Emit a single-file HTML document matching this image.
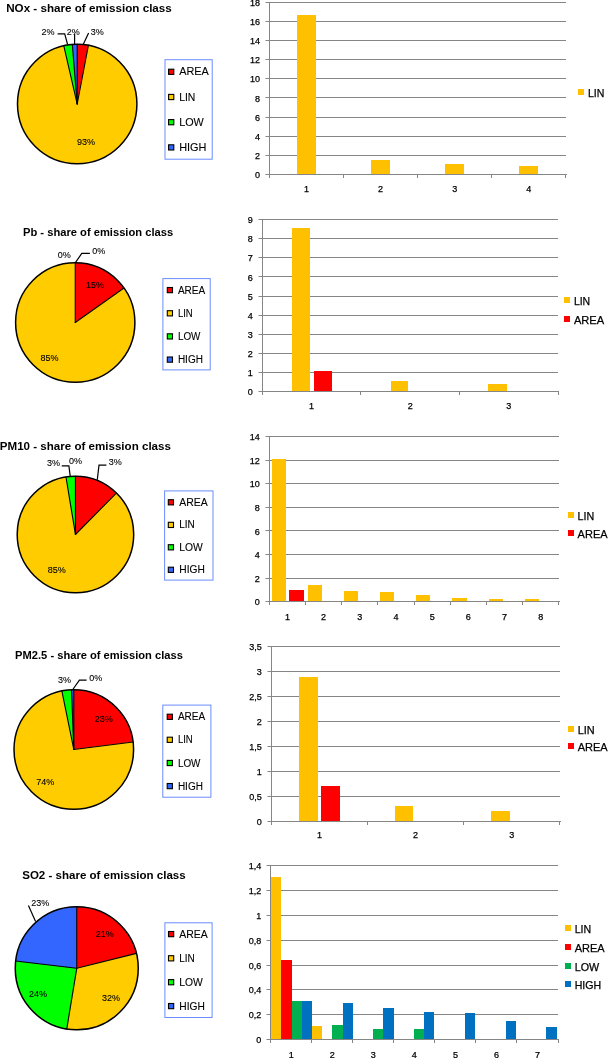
<!DOCTYPE html>
<html><head><meta charset="utf-8"><style>
html,body{margin:0;padding:0;background:#fff;width:609px;height:1058px;overflow:hidden}
text{font-family:"Liberation Sans", sans-serif}
svg{will-change:transform}
</style></head><body>
<svg width="609" height="1058" viewBox="0 0 609 1058" style="display:block">
<rect width="609" height="1058" fill="#fff"/>
<text x="6.20" y="12.30" font-size="11.5" text-anchor="start" font-weight="bold" fill="#000" textLength="165.60" lengthAdjust="spacingAndGlyphs" >NOx - share of emission class</text>
<path d="M77.20,104.00 L77.20,44.30 A59.7,59.7 0 0 1 88.39,45.36 Z" fill="#FF0000" stroke="#FF0000" stroke-width="0.3"/>
<path d="M77.20,104.00 L88.39,45.36 A59.7,59.7 0 1 1 63.81,45.82 Z" fill="#FFCC00" stroke="#FFCC00" stroke-width="0.3"/>
<path d="M77.20,104.00 L63.81,45.82 A59.7,59.7 0 0 1 72.33,44.50 Z" fill="#00FF00" stroke="#00FF00" stroke-width="0.3"/>
<path d="M77.20,104.00 L72.33,44.50 A59.7,59.7 0 0 1 77.20,44.30 Z" fill="#3366FF" stroke="#3366FF" stroke-width="0.3"/>
<line x1="77.20" y1="104.00" x2="77.20" y2="44.30" stroke="#000" stroke-width="1.1" stroke-linecap="round"/>
<line x1="77.20" y1="104.00" x2="88.39" y2="45.36" stroke="#000" stroke-width="1.1" stroke-linecap="round"/>
<line x1="77.20" y1="104.00" x2="63.81" y2="45.82" stroke="#000" stroke-width="1.1" stroke-linecap="round"/>
<line x1="77.20" y1="104.00" x2="72.33" y2="44.50" stroke="#000" stroke-width="1.1" stroke-linecap="round"/>
<circle cx="77.2" cy="104.0" r="59.7" fill="none" stroke="#000" stroke-width="1.5"/>
<text x="86.00" y="145.00" font-size="9" text-anchor="middle" font-weight="normal" fill="#000" stroke="#000" stroke-width="0.1">93%</text>
<text x="41.60" y="34.90" font-size="9" text-anchor="start" font-weight="normal" fill="#000" stroke="#000" stroke-width="0.1">2%</text>
<text x="66.80" y="34.90" font-size="9" text-anchor="start" font-weight="normal" fill="#000" stroke="#000" stroke-width="0.1">2%</text>
<text x="90.70" y="34.90" font-size="9" text-anchor="start" font-weight="normal" fill="#000" stroke="#000" stroke-width="0.1">3%</text>
<polyline points="57.6,33.8 64.7,33.8 67.6,44.5" fill="none" stroke="#000" stroke-width="1.2"/>
<polyline points="74.6,34 74.6,44.5" fill="none" stroke="#000" stroke-width="1.2"/>
<polyline points="88.6,33 83.2,44.5" fill="none" stroke="#000" stroke-width="1.2"/>
<rect x="165.00" y="59.70" width="47.20" height="99.50" fill="#fff" stroke="#6A8CFF" stroke-width="1"/>
<rect x="168.60" y="69.20" width="5.2" height="5.2" fill="#FF0000" stroke="#000" stroke-width="1.1"/>
<text x="179.20" y="75.30" font-size="11" text-anchor="start" font-weight="normal" fill="#000" textLength="29.60" lengthAdjust="spacingAndGlyphs" stroke="#000" stroke-width="0.1">AREA</text>
<rect x="168.60" y="94.40" width="5.2" height="5.2" fill="#FFCC00" stroke="#000" stroke-width="1.1"/>
<text x="179.20" y="100.50" font-size="11" text-anchor="start" font-weight="normal" fill="#000" textLength="16.20" lengthAdjust="spacingAndGlyphs" stroke="#000" stroke-width="0.1">LIN</text>
<rect x="168.60" y="119.60" width="5.2" height="5.2" fill="#00FF00" stroke="#000" stroke-width="1.1"/>
<text x="179.20" y="125.70" font-size="11" text-anchor="start" font-weight="normal" fill="#000" textLength="24.60" lengthAdjust="spacingAndGlyphs" stroke="#000" stroke-width="0.1">LOW</text>
<rect x="168.60" y="144.80" width="5.2" height="5.2" fill="#3366FF" stroke="#000" stroke-width="1.1"/>
<text x="179.20" y="150.90" font-size="11" text-anchor="start" font-weight="normal" fill="#000" textLength="27.30" lengthAdjust="spacingAndGlyphs" stroke="#000" stroke-width="0.1">HIGH</text>
<text x="260.00" y="177.90" font-size="9" text-anchor="end" font-weight="normal" fill="#000" stroke="#000" stroke-width="0.25">0</text>
<line x1="265.50" y1="155.50" x2="566.00" y2="155.50" stroke="#868686" stroke-width="1"/>
<text x="260.00" y="158.80" font-size="9" text-anchor="end" font-weight="normal" fill="#000" stroke="#000" stroke-width="0.25">2</text>
<line x1="265.50" y1="136.50" x2="566.00" y2="136.50" stroke="#868686" stroke-width="1"/>
<text x="260.00" y="139.70" font-size="9" text-anchor="end" font-weight="normal" fill="#000" stroke="#000" stroke-width="0.25">4</text>
<line x1="265.50" y1="117.50" x2="566.00" y2="117.50" stroke="#868686" stroke-width="1"/>
<text x="260.00" y="120.60" font-size="9" text-anchor="end" font-weight="normal" fill="#000" stroke="#000" stroke-width="0.25">6</text>
<line x1="265.50" y1="97.50" x2="566.00" y2="97.50" stroke="#868686" stroke-width="1"/>
<text x="260.00" y="101.50" font-size="9" text-anchor="end" font-weight="normal" fill="#000" stroke="#000" stroke-width="0.25">8</text>
<line x1="265.50" y1="78.50" x2="566.00" y2="78.50" stroke="#868686" stroke-width="1"/>
<text x="260.00" y="82.40" font-size="9" text-anchor="end" font-weight="normal" fill="#000" stroke="#000" stroke-width="0.25">10</text>
<line x1="265.50" y1="59.50" x2="566.00" y2="59.50" stroke="#868686" stroke-width="1"/>
<text x="260.00" y="63.30" font-size="9" text-anchor="end" font-weight="normal" fill="#000" stroke="#000" stroke-width="0.25">12</text>
<line x1="265.50" y1="40.50" x2="566.00" y2="40.50" stroke="#868686" stroke-width="1"/>
<text x="260.00" y="44.20" font-size="9" text-anchor="end" font-weight="normal" fill="#000" stroke="#000" stroke-width="0.25">14</text>
<line x1="265.50" y1="21.50" x2="566.00" y2="21.50" stroke="#868686" stroke-width="1"/>
<text x="260.00" y="25.10" font-size="9" text-anchor="end" font-weight="normal" fill="#000" stroke="#000" stroke-width="0.25">16</text>
<line x1="265.50" y1="2.50" x2="566.00" y2="2.50" stroke="#868686" stroke-width="1"/>
<text x="260.00" y="6.00" font-size="9" text-anchor="end" font-weight="normal" fill="#000" stroke="#000" stroke-width="0.25">18</text>
<rect x="297" y="15" width="19" height="159" fill="#FFC000"/>
<rect x="371" y="160" width="19" height="14" fill="#FFC000"/>
<rect x="445" y="164" width="19" height="10" fill="#FFC000"/>
<rect x="519" y="166" width="19" height="8" fill="#FFC000"/>
<line x1="265.50" y1="174.50" x2="567.00" y2="174.50" stroke="#868686" stroke-width="1"/>
<line x1="269.50" y1="2.00" x2="269.50" y2="178.00" stroke="#868686" stroke-width="1"/>
<line x1="343.50" y1="174.50" x2="343.50" y2="178.00" stroke="#868686" stroke-width="1"/>
<line x1="417.50" y1="174.50" x2="417.50" y2="178.00" stroke="#868686" stroke-width="1"/>
<line x1="491.50" y1="174.50" x2="491.50" y2="178.00" stroke="#868686" stroke-width="1"/>
<line x1="565.50" y1="174.50" x2="565.50" y2="178.00" stroke="#868686" stroke-width="1"/>
<text x="306.54" y="192.40" font-size="9" text-anchor="middle" font-weight="normal" fill="#000" stroke="#000" stroke-width="0.25">1</text>
<text x="380.61" y="192.40" font-size="9" text-anchor="middle" font-weight="normal" fill="#000" stroke="#000" stroke-width="0.25">2</text>
<text x="454.69" y="192.40" font-size="9" text-anchor="middle" font-weight="normal" fill="#000" stroke="#000" stroke-width="0.25">3</text>
<text x="528.76" y="192.40" font-size="9" text-anchor="middle" font-weight="normal" fill="#000" stroke="#000" stroke-width="0.25">4</text>
<rect x="578" y="89" width="6" height="6" fill="#FFC000"/>
<text x="587.90" y="96.80" font-size="11" text-anchor="start" font-weight="normal" fill="#000" textLength="16.40" lengthAdjust="spacingAndGlyphs" stroke="#000" stroke-width="0.25">LIN</text>
<text x="23.00" y="235.50" font-size="11.5" text-anchor="start" font-weight="bold" fill="#000" textLength="150.10" lengthAdjust="spacingAndGlyphs" >Pb - share of emission class</text>
<path d="M75.25,322.50 L75.25,262.85 A59.65,59.65 0 0 1 123.94,288.05 Z" fill="#FF0000" stroke="#FF0000" stroke-width="0.3"/>
<path d="M75.25,322.50 L123.94,288.05 A59.65,59.65 0 1 1 75.25,262.85 Z" fill="#FFCC00" stroke="#FFCC00" stroke-width="0.3"/>
<line x1="75.25" y1="322.50" x2="75.25" y2="262.85" stroke="#000" stroke-width="1.1" stroke-linecap="round"/>
<line x1="75.25" y1="322.50" x2="123.94" y2="288.05" stroke="#000" stroke-width="1.1" stroke-linecap="round"/>
<circle cx="75.25" cy="322.5" r="59.65" fill="none" stroke="#000" stroke-width="1.5"/>
<text x="95.00" y="288.00" font-size="9" text-anchor="middle" font-weight="normal" fill="#000" stroke="#000" stroke-width="0.1">15%</text>
<text x="49.50" y="361.30" font-size="9" text-anchor="middle" font-weight="normal" fill="#000" stroke="#000" stroke-width="0.1">85%</text>
<text x="57.70" y="258.00" font-size="9" text-anchor="start" font-weight="normal" fill="#000" stroke="#000" stroke-width="0.1">0%</text>
<text x="92.30" y="254.00" font-size="9" text-anchor="start" font-weight="normal" fill="#000" stroke="#000" stroke-width="0.1">0%</text>
<polyline points="75.2,262.8 81.8,253.4 89.9,253.4" fill="none" stroke="#000" stroke-width="1.2"/>
<rect x="162.90" y="278.60" width="47.30" height="91.30" fill="#fff" stroke="#6A8CFF" stroke-width="1"/>
<rect x="167.30" y="287.50" width="5.2" height="5.2" fill="#FF0000" stroke="#000" stroke-width="1.1"/>
<text x="177.90" y="293.60" font-size="10" text-anchor="start" font-weight="normal" fill="#000" textLength="27.30" lengthAdjust="spacingAndGlyphs" stroke="#000" stroke-width="0.1">AREA</text>
<rect x="167.30" y="310.70" width="5.2" height="5.2" fill="#FFCC00" stroke="#000" stroke-width="1.1"/>
<text x="177.90" y="316.80" font-size="10" text-anchor="start" font-weight="normal" fill="#000" textLength="14.80" lengthAdjust="spacingAndGlyphs" stroke="#000" stroke-width="0.1">LIN</text>
<rect x="167.30" y="333.80" width="5.2" height="5.2" fill="#00FF00" stroke="#000" stroke-width="1.1"/>
<text x="177.90" y="339.90" font-size="10" text-anchor="start" font-weight="normal" fill="#000" textLength="22.50" lengthAdjust="spacingAndGlyphs" stroke="#000" stroke-width="0.1">LOW</text>
<rect x="167.30" y="357.00" width="5.2" height="5.2" fill="#3366FF" stroke="#000" stroke-width="1.1"/>
<text x="177.90" y="363.10" font-size="10" text-anchor="start" font-weight="normal" fill="#000" textLength="25.00" lengthAdjust="spacingAndGlyphs" stroke="#000" stroke-width="0.1">HIGH</text>
<text x="252.80" y="395.40" font-size="9" text-anchor="end" font-weight="normal" fill="#000" stroke="#000" stroke-width="0.25">0</text>
<line x1="258.50" y1="372.50" x2="558.00" y2="372.50" stroke="#868686" stroke-width="1"/>
<text x="252.80" y="376.26" font-size="9" text-anchor="end" font-weight="normal" fill="#000" stroke="#000" stroke-width="0.25">1</text>
<line x1="258.50" y1="353.50" x2="558.00" y2="353.50" stroke="#868686" stroke-width="1"/>
<text x="252.80" y="357.11" font-size="9" text-anchor="end" font-weight="normal" fill="#000" stroke="#000" stroke-width="0.25">2</text>
<line x1="258.50" y1="334.50" x2="558.00" y2="334.50" stroke="#868686" stroke-width="1"/>
<text x="252.80" y="337.97" font-size="9" text-anchor="end" font-weight="normal" fill="#000" stroke="#000" stroke-width="0.25">3</text>
<line x1="258.50" y1="315.50" x2="558.00" y2="315.50" stroke="#868686" stroke-width="1"/>
<text x="252.80" y="318.82" font-size="9" text-anchor="end" font-weight="normal" fill="#000" stroke="#000" stroke-width="0.25">4</text>
<line x1="258.50" y1="296.50" x2="558.00" y2="296.50" stroke="#868686" stroke-width="1"/>
<text x="252.80" y="299.68" font-size="9" text-anchor="end" font-weight="normal" fill="#000" stroke="#000" stroke-width="0.25">5</text>
<line x1="258.50" y1="276.50" x2="558.00" y2="276.50" stroke="#868686" stroke-width="1"/>
<text x="252.80" y="280.53" font-size="9" text-anchor="end" font-weight="normal" fill="#000" stroke="#000" stroke-width="0.25">6</text>
<line x1="258.50" y1="257.50" x2="558.00" y2="257.50" stroke="#868686" stroke-width="1"/>
<text x="252.80" y="261.39" font-size="9" text-anchor="end" font-weight="normal" fill="#000" stroke="#000" stroke-width="0.25">7</text>
<line x1="258.50" y1="238.50" x2="558.00" y2="238.50" stroke="#868686" stroke-width="1"/>
<text x="252.80" y="242.24" font-size="9" text-anchor="end" font-weight="normal" fill="#000" stroke="#000" stroke-width="0.25">8</text>
<line x1="258.50" y1="219.50" x2="558.00" y2="219.50" stroke="#868686" stroke-width="1"/>
<text x="252.80" y="223.10" font-size="9" text-anchor="end" font-weight="normal" fill="#000" stroke="#000" stroke-width="0.25">9</text>
<rect x="292" y="228" width="18" height="163" fill="#FFC000"/>
<rect x="314" y="371" width="18" height="20" fill="#FF0000"/>
<rect x="391" y="381" width="17" height="10" fill="#FFC000"/>
<rect x="488" y="384" width="19" height="7" fill="#FFC000"/>
<line x1="258.50" y1="391.50" x2="559.00" y2="391.50" stroke="#868686" stroke-width="1"/>
<line x1="262.50" y1="219.00" x2="262.50" y2="395.00" stroke="#868686" stroke-width="1"/>
<line x1="360.50" y1="391.50" x2="360.50" y2="395.00" stroke="#868686" stroke-width="1"/>
<line x1="459.50" y1="391.50" x2="459.50" y2="395.00" stroke="#868686" stroke-width="1"/>
<line x1="558.50" y1="391.50" x2="558.50" y2="395.00" stroke="#868686" stroke-width="1"/>
<text x="311.58" y="409.20" font-size="9" text-anchor="middle" font-weight="normal" fill="#000" stroke="#000" stroke-width="0.25">1</text>
<text x="410.15" y="409.20" font-size="9" text-anchor="middle" font-weight="normal" fill="#000" stroke="#000" stroke-width="0.25">2</text>
<text x="508.72" y="409.20" font-size="9" text-anchor="middle" font-weight="normal" fill="#000" stroke="#000" stroke-width="0.25">3</text>
<rect x="564" y="297" width="6" height="6" fill="#FFC000"/>
<text x="573.90" y="304.90" font-size="11" text-anchor="start" font-weight="normal" fill="#000" textLength="16.30" lengthAdjust="spacingAndGlyphs" stroke="#000" stroke-width="0.25">LIN</text>
<rect x="564" y="316" width="6" height="6" fill="#FF0000"/>
<text x="573.90" y="323.60" font-size="11" text-anchor="start" font-weight="normal" fill="#000" textLength="30.30" lengthAdjust="spacingAndGlyphs" stroke="#000" stroke-width="0.25">AREA</text>
<text x="-0.20" y="449.70" font-size="11.5" text-anchor="start" font-weight="bold" fill="#000" textLength="171.10" lengthAdjust="spacingAndGlyphs" >PM10 - share of emission class</text>
<path d="M75.45,534.50 L75.45,476.25 A58.25,58.25 0 0 1 116.38,493.05 Z" fill="#FF0000" stroke="#FF0000" stroke-width="0.3"/>
<path d="M75.45,534.50 L116.38,493.05 A58.25,58.25 0 1 1 65.98,477.03 Z" fill="#FFCC00" stroke="#FFCC00" stroke-width="0.3"/>
<path d="M75.45,534.50 L65.98,477.03 A58.25,58.25 0 0 1 75.45,476.25 Z" fill="#00FF00" stroke="#00FF00" stroke-width="0.3"/>
<line x1="75.45" y1="534.50" x2="75.45" y2="476.25" stroke="#000" stroke-width="1.1" stroke-linecap="round"/>
<line x1="75.45" y1="534.50" x2="116.38" y2="493.05" stroke="#000" stroke-width="1.1" stroke-linecap="round"/>
<line x1="75.45" y1="534.50" x2="65.98" y2="477.03" stroke="#000" stroke-width="1.1" stroke-linecap="round"/>
<circle cx="75.45" cy="534.5" r="58.25" fill="none" stroke="#000" stroke-width="1.5"/>
<text x="56.70" y="572.70" font-size="9" text-anchor="middle" font-weight="normal" fill="#000" stroke="#000" stroke-width="0.1">85%</text>
<text x="46.90" y="465.90" font-size="9" text-anchor="start" font-weight="normal" fill="#000" stroke="#000" stroke-width="0.1">3%</text>
<text x="68.90" y="464.40" font-size="9" text-anchor="start" font-weight="normal" fill="#000" stroke="#000" stroke-width="0.1">0%</text>
<text x="108.80" y="465.10" font-size="9" text-anchor="start" font-weight="normal" fill="#000" stroke="#000" stroke-width="0.1">3%</text>
<polyline points="61.7,465.9 68.9,465.9 70.3,476.8" fill="none" stroke="#000" stroke-width="1.2"/>
<polyline points="106.4,465.1 99,465.1 97.3,479.6" fill="none" stroke="#000" stroke-width="1.2"/>
<rect x="164.60" y="490.90" width="48.40" height="89.20" fill="#fff" stroke="#6A8CFF" stroke-width="1"/>
<rect x="168.30" y="499.70" width="5.2" height="5.2" fill="#FF0000" stroke="#000" stroke-width="1.1"/>
<text x="179.30" y="505.80" font-size="10.5" text-anchor="start" font-weight="normal" fill="#000" textLength="28.50" lengthAdjust="spacingAndGlyphs" stroke="#000" stroke-width="0.1">AREA</text>
<rect x="168.30" y="522.30" width="5.2" height="5.2" fill="#FFCC00" stroke="#000" stroke-width="1.1"/>
<text x="179.30" y="528.40" font-size="10.5" text-anchor="start" font-weight="normal" fill="#000" textLength="15.50" lengthAdjust="spacingAndGlyphs" stroke="#000" stroke-width="0.1">LIN</text>
<rect x="168.30" y="544.70" width="5.2" height="5.2" fill="#00FF00" stroke="#000" stroke-width="1.1"/>
<text x="179.30" y="550.80" font-size="10.5" text-anchor="start" font-weight="normal" fill="#000" textLength="23.50" lengthAdjust="spacingAndGlyphs" stroke="#000" stroke-width="0.1">LOW</text>
<rect x="168.30" y="567.20" width="5.2" height="5.2" fill="#3366FF" stroke="#000" stroke-width="1.1"/>
<text x="179.30" y="573.30" font-size="10.5" text-anchor="start" font-weight="normal" fill="#000" textLength="25.50" lengthAdjust="spacingAndGlyphs" stroke="#000" stroke-width="0.1">HIGH</text>
<text x="259.80" y="605.30" font-size="9" text-anchor="end" font-weight="normal" fill="#000" stroke="#000" stroke-width="0.25">0</text>
<line x1="265.50" y1="578.50" x2="559.00" y2="578.50" stroke="#868686" stroke-width="1"/>
<text x="259.80" y="581.70" font-size="9" text-anchor="end" font-weight="normal" fill="#000" stroke="#000" stroke-width="0.25">2</text>
<line x1="265.50" y1="554.50" x2="559.00" y2="554.50" stroke="#868686" stroke-width="1"/>
<text x="259.80" y="558.10" font-size="9" text-anchor="end" font-weight="normal" fill="#000" stroke="#000" stroke-width="0.25">4</text>
<line x1="265.50" y1="530.50" x2="559.00" y2="530.50" stroke="#868686" stroke-width="1"/>
<text x="259.80" y="534.50" font-size="9" text-anchor="end" font-weight="normal" fill="#000" stroke="#000" stroke-width="0.25">6</text>
<line x1="265.50" y1="507.50" x2="559.00" y2="507.50" stroke="#868686" stroke-width="1"/>
<text x="259.80" y="510.90" font-size="9" text-anchor="end" font-weight="normal" fill="#000" stroke="#000" stroke-width="0.25">8</text>
<line x1="265.50" y1="483.50" x2="559.00" y2="483.50" stroke="#868686" stroke-width="1"/>
<text x="259.80" y="487.30" font-size="9" text-anchor="end" font-weight="normal" fill="#000" stroke="#000" stroke-width="0.25">10</text>
<line x1="265.50" y1="460.50" x2="559.00" y2="460.50" stroke="#868686" stroke-width="1"/>
<text x="259.80" y="463.70" font-size="9" text-anchor="end" font-weight="normal" fill="#000" stroke="#000" stroke-width="0.25">12</text>
<line x1="265.50" y1="436.50" x2="559.00" y2="436.50" stroke="#868686" stroke-width="1"/>
<text x="259.80" y="440.10" font-size="9" text-anchor="end" font-weight="normal" fill="#000" stroke="#000" stroke-width="0.25">14</text>
<rect x="272" y="459" width="14" height="142" fill="#FFC000"/>
<rect x="289" y="590" width="15" height="11" fill="#FF0000"/>
<rect x="308" y="585" width="14" height="16" fill="#FFC000"/>
<rect x="344" y="591" width="14" height="10" fill="#FFC000"/>
<rect x="380" y="592" width="14" height="9" fill="#FFC000"/>
<rect x="416" y="595" width="14" height="6" fill="#FFC000"/>
<rect x="452" y="598" width="15" height="3" fill="#FFC000"/>
<rect x="489" y="599" width="14" height="2" fill="#FFC000"/>
<rect x="525" y="599" width="14" height="2" fill="#FFC000"/>
<line x1="265.50" y1="601.50" x2="560.00" y2="601.50" stroke="#868686" stroke-width="1"/>
<line x1="269.50" y1="436.00" x2="269.50" y2="605.00" stroke="#868686" stroke-width="1"/>
<line x1="305.50" y1="601.50" x2="305.50" y2="605.00" stroke="#868686" stroke-width="1"/>
<line x1="341.50" y1="601.50" x2="341.50" y2="605.00" stroke="#868686" stroke-width="1"/>
<line x1="377.50" y1="601.50" x2="377.50" y2="605.00" stroke="#868686" stroke-width="1"/>
<line x1="414.50" y1="601.50" x2="414.50" y2="605.00" stroke="#868686" stroke-width="1"/>
<line x1="450.50" y1="601.50" x2="450.50" y2="605.00" stroke="#868686" stroke-width="1"/>
<line x1="486.50" y1="601.50" x2="486.50" y2="605.00" stroke="#868686" stroke-width="1"/>
<line x1="522.50" y1="601.50" x2="522.50" y2="605.00" stroke="#868686" stroke-width="1"/>
<line x1="558.50" y1="601.50" x2="558.50" y2="605.00" stroke="#868686" stroke-width="1"/>
<text x="287.39" y="620.20" font-size="9" text-anchor="middle" font-weight="normal" fill="#000" stroke="#000" stroke-width="0.25">1</text>
<text x="323.58" y="620.20" font-size="9" text-anchor="middle" font-weight="normal" fill="#000" stroke="#000" stroke-width="0.25">2</text>
<text x="359.77" y="620.20" font-size="9" text-anchor="middle" font-weight="normal" fill="#000" stroke="#000" stroke-width="0.25">3</text>
<text x="395.96" y="620.20" font-size="9" text-anchor="middle" font-weight="normal" fill="#000" stroke="#000" stroke-width="0.25">4</text>
<text x="432.14" y="620.20" font-size="9" text-anchor="middle" font-weight="normal" fill="#000" stroke="#000" stroke-width="0.25">5</text>
<text x="468.33" y="620.20" font-size="9" text-anchor="middle" font-weight="normal" fill="#000" stroke="#000" stroke-width="0.25">6</text>
<text x="504.52" y="620.20" font-size="9" text-anchor="middle" font-weight="normal" fill="#000" stroke="#000" stroke-width="0.25">7</text>
<text x="540.71" y="620.20" font-size="9" text-anchor="middle" font-weight="normal" fill="#000" stroke="#000" stroke-width="0.25">8</text>
<rect x="568" y="512" width="6" height="6" fill="#FFC000"/>
<text x="577.60" y="519.70" font-size="11" text-anchor="start" font-weight="normal" fill="#000" textLength="16.70" lengthAdjust="spacingAndGlyphs" stroke="#000" stroke-width="0.25">LIN</text>
<rect x="568" y="530" width="6" height="6" fill="#FF0000"/>
<text x="577.60" y="538.00" font-size="11" text-anchor="start" font-weight="normal" fill="#000" textLength="30.00" lengthAdjust="spacingAndGlyphs" stroke="#000" stroke-width="0.25">AREA</text>
<text x="15.10" y="659.20" font-size="11.5" text-anchor="start" font-weight="bold" fill="#000" textLength="167.80" lengthAdjust="spacingAndGlyphs" >PM2.5 - share of emission class</text>
<path d="M73.80,749.50 L73.80,689.70 A59.8,59.8 0 0 1 133.13,742.01 Z" fill="#FF0000" stroke="#FF0000" stroke-width="0.3"/>
<path d="M73.80,749.50 L133.13,742.01 A59.8,59.8 0 1 1 61.86,690.90 Z" fill="#FFCC00" stroke="#FFCC00" stroke-width="0.3"/>
<path d="M73.80,749.50 L61.86,690.90 A59.8,59.8 0 0 1 71.55,689.74 Z" fill="#00FF00" stroke="#00FF00" stroke-width="0.3"/>
<path d="M73.80,749.50 L71.55,689.74 A59.8,59.8 0 0 1 73.80,689.70 Z" fill="#3366FF" stroke="#3366FF" stroke-width="0.3"/>
<line x1="73.80" y1="749.50" x2="73.80" y2="689.70" stroke="#000" stroke-width="1.1" stroke-linecap="round"/>
<line x1="73.80" y1="749.50" x2="133.13" y2="742.01" stroke="#000" stroke-width="1.1" stroke-linecap="round"/>
<line x1="73.80" y1="749.50" x2="61.86" y2="690.90" stroke="#000" stroke-width="1.1" stroke-linecap="round"/>
<line x1="73.80" y1="749.50" x2="71.55" y2="689.74" stroke="#000" stroke-width="1.1" stroke-linecap="round"/>
<circle cx="73.8" cy="749.5" r="59.8" fill="none" stroke="#000" stroke-width="1.5"/>
<text x="103.70" y="722.00" font-size="9" text-anchor="middle" font-weight="normal" fill="#000" stroke="#000" stroke-width="0.1">23%</text>
<text x="45.20" y="785.20" font-size="9" text-anchor="middle" font-weight="normal" fill="#000" stroke="#000" stroke-width="0.1">74%</text>
<text x="58.10" y="682.70" font-size="9" text-anchor="start" font-weight="normal" fill="#000" stroke="#000" stroke-width="0.1">3%</text>
<text x="89.30" y="680.50" font-size="9" text-anchor="start" font-weight="normal" fill="#000" stroke="#000" stroke-width="0.1">0%</text>
<polyline points="72.8,689.5 79.4,680.1 86.6,680.1" fill="none" stroke="#000" stroke-width="1.2"/>
<rect x="162.80" y="705.10" width="48.10" height="92.10" fill="#fff" stroke="#6A8CFF" stroke-width="1"/>
<rect x="167.20" y="714.20" width="5.2" height="5.2" fill="#FF0000" stroke="#000" stroke-width="1.1"/>
<text x="177.90" y="720.30" font-size="10" text-anchor="start" font-weight="normal" fill="#000" textLength="27.30" lengthAdjust="spacingAndGlyphs" stroke="#000" stroke-width="0.1">AREA</text>
<rect x="167.20" y="737.20" width="5.2" height="5.2" fill="#FFCC00" stroke="#000" stroke-width="1.1"/>
<text x="177.90" y="743.30" font-size="10" text-anchor="start" font-weight="normal" fill="#000" textLength="14.80" lengthAdjust="spacingAndGlyphs" stroke="#000" stroke-width="0.1">LIN</text>
<rect x="167.20" y="760.40" width="5.2" height="5.2" fill="#00FF00" stroke="#000" stroke-width="1.1"/>
<text x="177.90" y="766.50" font-size="10" text-anchor="start" font-weight="normal" fill="#000" textLength="22.50" lengthAdjust="spacingAndGlyphs" stroke="#000" stroke-width="0.1">LOW</text>
<rect x="167.20" y="783.50" width="5.2" height="5.2" fill="#3366FF" stroke="#000" stroke-width="1.1"/>
<text x="177.90" y="789.60" font-size="10" text-anchor="start" font-weight="normal" fill="#000" textLength="25.00" lengthAdjust="spacingAndGlyphs" stroke="#000" stroke-width="0.1">HIGH</text>
<text x="261.80" y="824.70" font-size="9" text-anchor="end" font-weight="normal" fill="#000" stroke="#000" stroke-width="0.25">0</text>
<line x1="267.50" y1="796.50" x2="560.00" y2="796.50" stroke="#868686" stroke-width="1"/>
<text x="261.80" y="799.73" font-size="9" text-anchor="end" font-weight="normal" fill="#000" stroke="#000" stroke-width="0.25">0,5</text>
<line x1="267.50" y1="771.50" x2="560.00" y2="771.50" stroke="#868686" stroke-width="1"/>
<text x="261.80" y="774.76" font-size="9" text-anchor="end" font-weight="normal" fill="#000" stroke="#000" stroke-width="0.25">1</text>
<line x1="267.50" y1="746.50" x2="560.00" y2="746.50" stroke="#868686" stroke-width="1"/>
<text x="261.80" y="749.79" font-size="9" text-anchor="end" font-weight="normal" fill="#000" stroke="#000" stroke-width="0.25">1,5</text>
<line x1="267.50" y1="721.50" x2="560.00" y2="721.50" stroke="#868686" stroke-width="1"/>
<text x="261.80" y="724.81" font-size="9" text-anchor="end" font-weight="normal" fill="#000" stroke="#000" stroke-width="0.25">2</text>
<line x1="267.50" y1="696.50" x2="560.00" y2="696.50" stroke="#868686" stroke-width="1"/>
<text x="261.80" y="699.84" font-size="9" text-anchor="end" font-weight="normal" fill="#000" stroke="#000" stroke-width="0.25">2,5</text>
<line x1="267.50" y1="671.50" x2="560.00" y2="671.50" stroke="#868686" stroke-width="1"/>
<text x="261.80" y="674.87" font-size="9" text-anchor="end" font-weight="normal" fill="#000" stroke="#000" stroke-width="0.25">3</text>
<line x1="267.50" y1="646.50" x2="560.00" y2="646.50" stroke="#868686" stroke-width="1"/>
<text x="261.80" y="649.90" font-size="9" text-anchor="end" font-weight="normal" fill="#000" stroke="#000" stroke-width="0.25">3,5</text>
<rect x="299" y="677" width="19" height="144" fill="#FFC000"/>
<rect x="321" y="786" width="19" height="35" fill="#FF0000"/>
<rect x="395" y="806" width="18" height="15" fill="#FFC000"/>
<rect x="491" y="811" width="19" height="10" fill="#FFC000"/>
<line x1="267.50" y1="821.50" x2="561.00" y2="821.50" stroke="#868686" stroke-width="1"/>
<line x1="271.50" y1="646.00" x2="271.50" y2="825.00" stroke="#868686" stroke-width="1"/>
<line x1="367.50" y1="821.50" x2="367.50" y2="825.00" stroke="#868686" stroke-width="1"/>
<line x1="463.50" y1="821.50" x2="463.50" y2="825.00" stroke="#868686" stroke-width="1"/>
<line x1="559.50" y1="821.50" x2="559.50" y2="825.00" stroke="#868686" stroke-width="1"/>
<text x="319.40" y="838.40" font-size="9" text-anchor="middle" font-weight="normal" fill="#000" stroke="#000" stroke-width="0.25">1</text>
<text x="415.60" y="838.40" font-size="9" text-anchor="middle" font-weight="normal" fill="#000" stroke="#000" stroke-width="0.25">2</text>
<text x="511.80" y="838.40" font-size="9" text-anchor="middle" font-weight="normal" fill="#000" stroke="#000" stroke-width="0.25">3</text>
<rect x="568" y="726" width="6" height="6" fill="#FFC000"/>
<text x="577.70" y="733.50" font-size="11" text-anchor="start" font-weight="normal" fill="#000" textLength="17.00" lengthAdjust="spacingAndGlyphs" stroke="#000" stroke-width="0.25">LIN</text>
<rect x="568" y="743" width="6" height="6" fill="#FF0000"/>
<text x="577.70" y="750.70" font-size="11" text-anchor="start" font-weight="normal" fill="#000" textLength="30.00" lengthAdjust="spacingAndGlyphs" stroke="#000" stroke-width="0.25">AREA</text>
<text x="22.20" y="878.90" font-size="11.5" text-anchor="start" font-weight="bold" fill="#000" textLength="163.50" lengthAdjust="spacingAndGlyphs" >SO2 - share of emission class</text>
<path d="M76.75,968.30 L76.75,906.80 A61.5,61.5 0 0 1 136.41,953.38 Z" fill="#FF0000" stroke="#FF0000" stroke-width="0.3"/>
<path d="M76.75,968.30 L136.41,953.38 A61.5,61.5 0 0 1 66.75,1028.98 Z" fill="#FFCC00" stroke="#FFCC00" stroke-width="0.3"/>
<path d="M76.75,968.30 L66.75,1028.98 A61.5,61.5 0 0 1 15.69,960.98 Z" fill="#00FF00" stroke="#00FF00" stroke-width="0.3"/>
<path d="M76.75,968.30 L15.69,960.98 A61.5,61.5 0 0 1 76.75,906.80 Z" fill="#3366FF" stroke="#3366FF" stroke-width="0.3"/>
<line x1="76.75" y1="968.30" x2="76.75" y2="906.80" stroke="#000" stroke-width="1.1" stroke-linecap="round"/>
<line x1="76.75" y1="968.30" x2="136.41" y2="953.38" stroke="#000" stroke-width="1.1" stroke-linecap="round"/>
<line x1="76.75" y1="968.30" x2="66.75" y2="1028.98" stroke="#000" stroke-width="1.1" stroke-linecap="round"/>
<line x1="76.75" y1="968.30" x2="15.69" y2="960.98" stroke="#000" stroke-width="1.1" stroke-linecap="round"/>
<circle cx="76.75" cy="968.3" r="61.5" fill="none" stroke="#000" stroke-width="1.5"/>
<text x="104.80" y="937.00" font-size="9" text-anchor="middle" font-weight="normal" fill="#000" stroke="#000" stroke-width="0.1">21%</text>
<text x="110.90" y="1000.60" font-size="9" text-anchor="middle" font-weight="normal" fill="#000" stroke="#000" stroke-width="0.1">32%</text>
<text x="37.90" y="997.00" font-size="9" text-anchor="middle" font-weight="normal" fill="#000" stroke="#000" stroke-width="0.1">24%</text>
<text x="31.30" y="906.00" font-size="9" text-anchor="start" font-weight="normal" fill="#000" stroke="#000" stroke-width="0.1">23%</text>
<line x1="28.4" y1="905.4" x2="35.6" y2="921.5" stroke="#000" stroke-width="1.2"/>
<rect x="164.90" y="922.80" width="47.20" height="94.70" fill="#fff" stroke="#6A8CFF" stroke-width="1"/>
<rect x="168.50" y="931.50" width="5.2" height="5.2" fill="#FF0000" stroke="#000" stroke-width="1.1"/>
<text x="179.30" y="937.60" font-size="10.5" text-anchor="start" font-weight="normal" fill="#000" textLength="28.50" lengthAdjust="spacingAndGlyphs" stroke="#000" stroke-width="0.1">AREA</text>
<rect x="168.50" y="955.70" width="5.2" height="5.2" fill="#FFCC00" stroke="#000" stroke-width="1.1"/>
<text x="179.30" y="961.80" font-size="10.5" text-anchor="start" font-weight="normal" fill="#000" textLength="15.50" lengthAdjust="spacingAndGlyphs" stroke="#000" stroke-width="0.1">LIN</text>
<rect x="168.50" y="979.60" width="5.2" height="5.2" fill="#00FF00" stroke="#000" stroke-width="1.1"/>
<text x="179.30" y="985.70" font-size="10.5" text-anchor="start" font-weight="normal" fill="#000" textLength="23.50" lengthAdjust="spacingAndGlyphs" stroke="#000" stroke-width="0.1">LOW</text>
<rect x="168.50" y="1003.50" width="5.2" height="5.2" fill="#3366FF" stroke="#000" stroke-width="1.1"/>
<text x="179.30" y="1009.60" font-size="10.5" text-anchor="start" font-weight="normal" fill="#000" textLength="25.50" lengthAdjust="spacingAndGlyphs" stroke="#000" stroke-width="0.1">HIGH</text>
<text x="261.20" y="1043.10" font-size="9" text-anchor="end" font-weight="normal" fill="#000" stroke="#000" stroke-width="0.25">0</text>
<line x1="266.50" y1="1014.50" x2="558.00" y2="1014.50" stroke="#868686" stroke-width="1"/>
<text x="261.20" y="1018.27" font-size="9" text-anchor="end" font-weight="normal" fill="#000" stroke="#000" stroke-width="0.25">0,2</text>
<line x1="266.50" y1="989.50" x2="558.00" y2="989.50" stroke="#868686" stroke-width="1"/>
<text x="261.20" y="993.44" font-size="9" text-anchor="end" font-weight="normal" fill="#000" stroke="#000" stroke-width="0.25">0,4</text>
<line x1="266.50" y1="965.50" x2="558.00" y2="965.50" stroke="#868686" stroke-width="1"/>
<text x="261.20" y="968.61" font-size="9" text-anchor="end" font-weight="normal" fill="#000" stroke="#000" stroke-width="0.25">0,6</text>
<line x1="266.50" y1="940.50" x2="558.00" y2="940.50" stroke="#868686" stroke-width="1"/>
<text x="261.20" y="943.79" font-size="9" text-anchor="end" font-weight="normal" fill="#000" stroke="#000" stroke-width="0.25">0,8</text>
<line x1="266.50" y1="915.50" x2="558.00" y2="915.50" stroke="#868686" stroke-width="1"/>
<text x="261.20" y="918.96" font-size="9" text-anchor="end" font-weight="normal" fill="#000" stroke="#000" stroke-width="0.25">1</text>
<line x1="266.50" y1="890.50" x2="558.00" y2="890.50" stroke="#868686" stroke-width="1"/>
<text x="261.20" y="894.13" font-size="9" text-anchor="end" font-weight="normal" fill="#000" stroke="#000" stroke-width="0.25">1,2</text>
<line x1="266.50" y1="865.50" x2="558.00" y2="865.50" stroke="#868686" stroke-width="1"/>
<text x="261.20" y="869.30" font-size="9" text-anchor="end" font-weight="normal" fill="#000" stroke="#000" stroke-width="0.25">1,4</text>
<rect x="271" y="877" width="10" height="162" fill="#FFC000"/>
<rect x="281" y="960" width="11" height="79" fill="#FF0000"/>
<rect x="292" y="1001" width="10" height="38" fill="#00B050"/>
<rect x="302" y="1001" width="10" height="38" fill="#0070C0"/>
<rect x="312" y="1026" width="10" height="13" fill="#FFC000"/>
<rect x="332" y="1025" width="11" height="14" fill="#00B050"/>
<rect x="343" y="1003" width="10" height="36" fill="#0070C0"/>
<rect x="373" y="1029" width="10" height="10" fill="#00B050"/>
<rect x="383" y="1008" width="11" height="31" fill="#0070C0"/>
<rect x="414" y="1029" width="10" height="10" fill="#00B050"/>
<rect x="424" y="1012" width="10" height="27" fill="#0070C0"/>
<rect x="465" y="1013" width="10" height="26" fill="#0070C0"/>
<rect x="506" y="1021" width="10" height="18" fill="#0070C0"/>
<rect x="546" y="1027" width="11" height="12" fill="#0070C0"/>
<line x1="266.50" y1="1039.50" x2="559.00" y2="1039.50" stroke="#868686" stroke-width="1"/>
<line x1="270.50" y1="865.00" x2="270.50" y2="1043.00" stroke="#868686" stroke-width="1"/>
<line x1="311.50" y1="1039.50" x2="311.50" y2="1043.00" stroke="#868686" stroke-width="1"/>
<line x1="352.50" y1="1039.50" x2="352.50" y2="1043.00" stroke="#868686" stroke-width="1"/>
<line x1="393.50" y1="1039.50" x2="393.50" y2="1043.00" stroke="#868686" stroke-width="1"/>
<line x1="434.50" y1="1039.50" x2="434.50" y2="1043.00" stroke="#868686" stroke-width="1"/>
<line x1="475.50" y1="1039.50" x2="475.50" y2="1043.00" stroke="#868686" stroke-width="1"/>
<line x1="516.50" y1="1039.50" x2="516.50" y2="1043.00" stroke="#868686" stroke-width="1"/>
<line x1="558.50" y1="1039.50" x2="558.50" y2="1043.00" stroke="#868686" stroke-width="1"/>
<text x="291.22" y="1058.40" font-size="9" text-anchor="middle" font-weight="normal" fill="#000" stroke="#000" stroke-width="0.25">1</text>
<text x="332.26" y="1058.40" font-size="9" text-anchor="middle" font-weight="normal" fill="#000" stroke="#000" stroke-width="0.25">2</text>
<text x="373.31" y="1058.40" font-size="9" text-anchor="middle" font-weight="normal" fill="#000" stroke="#000" stroke-width="0.25">3</text>
<text x="414.35" y="1058.40" font-size="9" text-anchor="middle" font-weight="normal" fill="#000" stroke="#000" stroke-width="0.25">4</text>
<text x="455.39" y="1058.40" font-size="9" text-anchor="middle" font-weight="normal" fill="#000" stroke="#000" stroke-width="0.25">5</text>
<text x="496.44" y="1058.40" font-size="9" text-anchor="middle" font-weight="normal" fill="#000" stroke="#000" stroke-width="0.25">6</text>
<text x="537.48" y="1058.40" font-size="9" text-anchor="middle" font-weight="normal" fill="#000" stroke="#000" stroke-width="0.25">7</text>
<rect x="565" y="925" width="6" height="6" fill="#FFC000"/>
<text x="574.70" y="933.00" font-size="11" text-anchor="start" font-weight="normal" fill="#000" textLength="16.50" lengthAdjust="spacingAndGlyphs" stroke="#000" stroke-width="0.25">LIN</text>
<rect x="565" y="944" width="6" height="6" fill="#FF0000"/>
<text x="574.70" y="951.70" font-size="11" text-anchor="start" font-weight="normal" fill="#000" textLength="30.00" lengthAdjust="spacingAndGlyphs" stroke="#000" stroke-width="0.25">AREA</text>
<rect x="565" y="963" width="6" height="6" fill="#00B050"/>
<text x="574.70" y="970.90" font-size="11" text-anchor="start" font-weight="normal" fill="#000" textLength="24.50" lengthAdjust="spacingAndGlyphs" stroke="#000" stroke-width="0.25">LOW</text>
<rect x="565" y="981" width="6" height="6" fill="#0070C0"/>
<text x="574.70" y="989.10" font-size="11" text-anchor="start" font-weight="normal" fill="#000" textLength="26.50" lengthAdjust="spacingAndGlyphs" stroke="#000" stroke-width="0.25">HIGH</text>
</svg>
</body></html>
